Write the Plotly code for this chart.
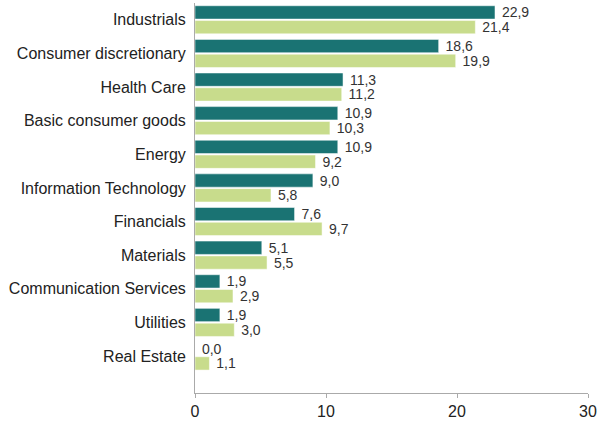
import plotly.graph_objects as go

categories = ["Industrials", "Consumer discretionary", "Health Care", "Basic consumer goods",
              "Energy", "Information Technology", "Financials", "Materials",
              "Communication Services", "Utilities", "Real Estate"]
series_a = [22.9, 18.6, 11.3, 10.9, 10.9, 9.0, 7.6, 5.1, 1.9, 1.9, 0.0]
series_b = [21.4, 19.9, 11.2, 10.3, 9.2, 5.8, 9.7, 5.5, 2.9, 3.0, 1.1]
x_ticks = [0, 10, 20, 30]

fig = go.Figure()
for vals, color, name in [(series_a, "#1a7373", "A"), (series_b, "#c8dc8c", "B")]:
    fig.add_trace(go.Bar(
        y=categories, x=vals, orientation="h", name=name,
        marker=dict(color=color, line=dict(color="white", width=0.5)),
        texttemplate="\u00a0%{x:.1f}", textposition="outside",
        constraintext="none",
        textfont=dict(family="Liberation Sans, Arial", size=14, color="#333333"),
        cliponaxis=False,
    ))

fig.update_layout(
    width=599, height=421,
    margin=dict(l=195, r=11, t=3, b=28),
    barmode="group", bargap=0.12, bargroupgap=0.1,
    separators=", ",
    showlegend=False,
    plot_bgcolor="white", paper_bgcolor="white",
    font=dict(family="Liberation Sans, Arial", color="#222222"),
)
fig.update_xaxes(range=[0, 30], tickvals=x_ticks, showgrid=False, zeroline=False,
                 showline=True, linecolor="#aaaaaa", ticks="outside", ticklen=4,
                 tickcolor="#aaaaaa", tickfont=dict(size=16, color="#222222"),
                 automargin=False)
fig.update_yaxes(categoryorder="array", categoryarray=categories,
                 range=[11.1, -0.5], showgrid=False, showline=True, linecolor="#aaaaaa",
                 ticks="", ticklabelstandoff=5, automargin=False,
                 tickfont=dict(size=16, color="#222222"))

fig.write_html("out.html", config={"displayModeBar": False},
               post_script="document.body.style.margin='0';document.body.style.overflow='hidden';")
